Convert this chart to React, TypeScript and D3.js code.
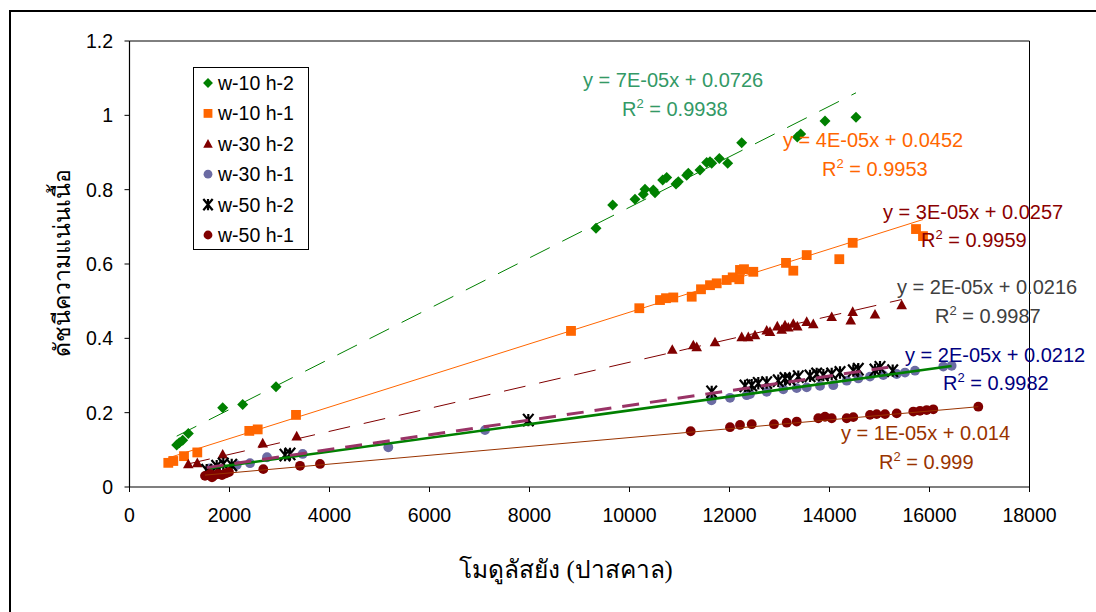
import React from "react";
import * as d3 from "d3";

// Series names (legend order)
const seriesNames = ["w-10 h-2", "w-10 h-1", "w-30 h-2", "w-30 h-1", "w-50 h-2", "w-50 h-1"];

// w-10 h-2
const w10h2X = [944, 996, 1064, 1176, 1864, 2264, 2930, 9330, 9664, 10110, 10276, 10310, 10476, 10510, 10664, 10744, 10930, 10976, 11144, 11176, 11410, 11544, 11610, 11644, 11796, 11964, 12244, 13356, 13424, 13910, 14530];
const w10h2Y = [0.113, 0.119, 0.126, 0.144, 0.213, 0.222, 0.270, 0.696, 0.759, 0.774, 0.788, 0.801, 0.799, 0.792, 0.826, 0.833, 0.815, 0.821, 0.839, 0.844, 0.853, 0.873, 0.875, 0.871, 0.884, 0.871, 0.926, 0.942, 0.950, 0.985, 0.995];

// w-10 h-1
const w10h1X = [776, 876, 1090, 1356, 2396, 2564, 3330, 8830, 10196, 10610, 10730, 10876, 11244, 11430, 11610, 11744, 11944, 12064, 12196, 12210, 12290, 12476, 13130, 13276, 13544, 14196, 14464, 15730, 15870];
const w10h1Y = [0.065, 0.070, 0.083, 0.093, 0.151, 0.155, 0.194, 0.420, 0.481, 0.503, 0.508, 0.510, 0.512, 0.532, 0.543, 0.548, 0.557, 0.564, 0.559, 0.584, 0.586, 0.579, 0.603, 0.582, 0.624, 0.613, 0.657, 0.694, 0.675];

// w-30 h-2
const w30h2X = [1176, 1356, 1864, 2664, 3344, 10856, 11276, 11344, 11710, 12244, 12376, 12510, 12744, 12810, 12956, 13044, 13110, 13176, 13276, 13356, 13544, 13676, 14044, 14464, 14424, 14910, 15444];
const w30h2Y = [0.062, 0.065, 0.088, 0.118, 0.137, 0.370, 0.382, 0.377, 0.390, 0.404, 0.404, 0.409, 0.422, 0.418, 0.433, 0.424, 0.436, 0.430, 0.440, 0.433, 0.445, 0.439, 0.458, 0.472, 0.449, 0.465, 0.490];

// w-30 h-1
const w30h1X = [1600, 2144, 2410, 2750, 3464, 5176, 7110, 11640, 12010, 12344, 12410, 12744, 13076, 13344, 13544, 13810, 14076, 14344, 14576, 14810, 15076, 15344, 15510, 15710, 16276, 16443];
const w30h1Y = [0.050, 0.059, 0.064, 0.080, 0.089, 0.107, 0.153, 0.233, 0.240, 0.247, 0.250, 0.256, 0.263, 0.266, 0.268, 0.272, 0.274, 0.286, 0.292, 0.297, 0.301, 0.304, 0.308, 0.313, 0.324, 0.326];

// w-50 h-2
const w50h2X = [1544, 1744, 1876, 2044, 3110, 3210, 7976, 11644, 12310, 12444, 12576, 12744, 12976, 13110, 13210, 13376, 13610, 13744, 13876, 14044, 14210, 14476, 14576, 14910, 15010, 15264];
const w50h2Y = [0.045, 0.056, 0.062, 0.059, 0.086, 0.089, 0.180, 0.256, 0.272, 0.274, 0.279, 0.281, 0.286, 0.292, 0.290, 0.297, 0.299, 0.304, 0.301, 0.304, 0.308, 0.313, 0.317, 0.315, 0.322, 0.313];

// w-50 h-1
const w50h1X = [1510, 1610, 1650, 1690, 1770, 1850, 1930, 1990, 2676, 3410, 3810, 11224, 12010, 12210, 12444, 12890, 13144, 13344, 13776, 13910, 14044, 14344, 14476, 14810, 14944, 15110, 15344, 15676, 15810, 15944, 16076, 16976];
const w50h1Y = [0.030, 0.035, 0.026, 0.031, 0.035, 0.032, 0.037, 0.040, 0.048, 0.057, 0.062, 0.150, 0.161, 0.167, 0.169, 0.169, 0.173, 0.176, 0.185, 0.189, 0.185, 0.185, 0.188, 0.194, 0.196, 0.196, 0.198, 0.203, 0.205, 0.207, 0.209, 0.216];

// Linear trendline coefficients (slope, intercept) per series
const trendSlopes = [6.8e-5, 4.25e-5, 3.1e-5, 1.85e-5, 1.98e-5, 1.19e-5];
const trendIntercepts = [0.0726, 0.0452, 0.0257, 0.0212, 0.0216, 0.014];

// Trendline equation labels
const eqLabels = [
  "y = 7E-05x + 0.0726",
  "y = 4E-05x + 0.0452",
  "y = 3E-05x + 0.0257",
  "y = 2E-05x + 0.0212",
  "y = 2E-05x + 0.0216",
  "y = 1E-05x + 0.014",
];
const r2Labels = ["0.9938", "0.9953", "0.9959", "0.9982", "0.9987", "0.999"];

// Axis ticks
const xTicks = [0, 2000, 4000, 6000, 8000, 10000, 12000, 14000, 16000, 18000];
const yTicks = [0, 0.2, 0.4, 0.6, 0.8, 1, 1.2];

const xTitle = "โมดูลัสยัง (ปาสคาล)";
const yTitle = "ดัชนีความแน่นเนื้อ";

const W = 1096;
const H = 612;
const FONT = "'Liberation Sans', Arial, sans-serif";

const x = d3.scaleLinear().domain([0, 18000]).range([129.5, 1029.5]);
const y = d3.scaleLinear().domain([0, 1.2]).range([487, 41]);

type Shape = "diamond" | "square" | "triangle" | "circle" | "star";

const styles = [
  { shape: "diamond" as Shape, fill: "#008000", line: "#008000", lw: 1, dash: "22,14", eqColor: "#339966" },
  { shape: "square" as Shape, fill: "#FF6600", line: "#FF6600", lw: 1, dash: "", eqColor: "#FF6600" },
  { shape: "triangle" as Shape, fill: "#800000", line: "#800000", lw: 1, dash: "22,14", eqColor: "#8B0000" },
  { shape: "circle" as Shape, fill: "#6B6BA3", line: "#008000", lw: 2.6, dash: "", eqColor: "#000080" },
  { shape: "star" as Shape, fill: "#000000", line: "#993366", lw: 3, dash: "17,11", eqColor: "#404040" },
  { shape: "circle" as Shape, fill: "#800000", line: "#993300", lw: 1, dash: "", eqColor: "#993300" },
];

const xsAll = [w10h2X, w10h1X, w30h2X, w30h1X, w50h2X, w50h1X];
const ysAll = [w10h2Y, w10h1Y, w30h2Y, w30h1Y, w50h2Y, w50h1Y];

// Label anchor positions (left edge, baseline of first line) for each equation block
const eqPos = [
  { x1: 583, y1: 87, x2: 622, y2: 116 },
  { x1: 783, y1: 147, x2: 822, y2: 176 },
  { x1: 883, y1: 219, x2: 921, y2: 247 },
  { x1: 905, y1: 362, x2: 943, y2: 390 },
  { x1: 897, y1: 294, x2: 935, y2: 323 },
  { x1: 841, y1: 440, x2: 879, y2: 469 },
];

function Marker({ shape, cx, cy, fill, s = 1 }: { shape: Shape; cx: number; cy: number; fill: string; s?: number }) {
  if (shape === "diamond") {
    const r = 5.5 * s;
    return <path d={`M${cx},${cy - r}L${cx + r},${cy}L${cx},${cy + r}L${cx - r},${cy}Z`} fill={fill} />;
  }
  if (shape === "square") {
    const r = 4.9 * s;
    return <rect x={cx - r} y={cy - r} width={2 * r} height={2 * r} fill={fill} />;
  }
  if (shape === "triangle") {
    const w = 5.3 * s;
    const h = 9.6 * s;
    return <path d={`M${cx},${cy - h * 0.55}L${cx + w},${cy + h * 0.45}L${cx - w},${cy + h * 0.45}Z`} fill={fill} />;
  }
  if (shape === "circle") {
    return <circle cx={cx} cy={cy} r={4.9 * s} fill={fill} />;
  }
  const a = 5.2 * s;
  const b = 6.2 * s;
  return (
    <path
      d={`M${cx - a},${cy - b}L${cx + a},${cy + b}M${cx + a},${cy - b}L${cx - a},${cy + b}M${cx},${cy - b}L${cx},${cy + b}`}
      stroke={fill}
      strokeWidth={2.2}
      fill="none"
    />
  );
}

export default function App() {
  const line = d3
    .line<number>()
    .x((d) => d[0])
    .y((d) => d[1]);

  const legendRows = seriesNames.map((n, i) => ({ n, i, cy: 83 + i * 30.4 }));

  return (
    <svg
      width={W}
      height={H}
      style={{ position: "absolute", left: 0, top: 0, display: "block", background: "#fff" }}
    >
      {/* outer chart frame */}
      <rect x={10} y={11} width={1200} height={700} fill="none" stroke="#000" strokeWidth={2} />

      {/* plot area border (top and right) */}
      <path d={`M${x(0)},${y(1.2)}H${x(18000)}V${y(0)}`} fill="none" stroke="#000" strokeWidth={1} />

      {/* axes */}
      <line x1={x(0)} x2={x(0)} y1={y(1.2)} y2={y(0)} stroke="#000" strokeWidth={1.2} />
      <line x1={x(0)} x2={x(18000)} y1={y(0)} y2={y(0)} stroke="#000" strokeWidth={1.2} />
      {yTicks.map((t) => (
        <g key={"y" + t}>
          <line x1={x(0) - 5} x2={x(0)} y1={y(t)} y2={y(t)} stroke="#000" />
          <text x={113} y={y(t) + 7} textAnchor="end" fontFamily={FONT} fontSize={19.5} fill="#000">
            {t}
          </text>
        </g>
      ))}
      {xTicks.map((t) => (
        <g key={"x" + t}>
          <line x1={x(t)} x2={x(t)} y1={y(0)} y2={y(0) + 5} stroke="#000" />
          <text x={x(t)} y={522} textAnchor="middle" fontFamily={FONT} fontSize={19.5} fill="#000">
            {t}
          </text>
        </g>
      ))}

      {/* markers */}
      {xsAll.map((xs, si) =>
        xs.map((xv, j) => (
          <Marker key={si + "-" + j} shape={styles[si].shape} cx={x(xv)} cy={y(ysAll[si][j])} fill={styles[si].fill} />
        ))
      )}

      {/* trendlines */}
      {xsAll.map((xs, si) => {
        const [lo, hi] = d3.extent(xs) as [number, number];
        const pts: [number, number][] = [lo, hi].map((v) => [x(v), y(trendSlopes[si] * v + trendIntercepts[si])]);
        return (
          <path
            key={"t" + si}
            d={line(pts as any) || ""}
            fill="none"
            stroke={styles[si].line}
            strokeWidth={styles[si].lw}
            strokeDasharray={styles[si].dash || undefined}
          />
        );
      })}

      {/* trendline equations */}
      {eqLabels.map((l, i) => (
        <g key={"e" + i} fontFamily={FONT} fontSize={20} fill={styles[i].eqColor}>
          <text x={eqPos[i].x1} y={eqPos[i].y1}>{l}</text>
          <text x={eqPos[i].x2} y={eqPos[i].y2}>
            R<tspan dy={-8} fontSize={13}>2</tspan>
            <tspan dy={8}>{" = " + r2Labels[i]}</tspan>
          </text>
        </g>
      ))}

      {/* legend */}
      <rect x={193.5} y={67.5} width={115} height={182} fill="#fff" stroke="#000" strokeWidth={1} />
      {legendRows.map(({ n, i, cy }) => (
        <g key={"l" + i}>
          <Marker shape={styles[i].shape} cx={208} cy={cy} fill={styles[i].fill} s={0.9} />
          <text x={218} y={cy + 7} fontFamily={FONT} fontSize={19.5} fill="#000">
            {n}
          </text>
        </g>
      ))}

      {/* axis titles */}
      <text x={566} y={578} textAnchor="middle" fontFamily="serif" fontSize={24.5} fill="#000">
        {xTitle}
      </text>
      <text
        transform="translate(70,263) rotate(-90)"
        textAnchor="middle"
        fontFamily="serif"
        fontSize={23}
        fill="#000"
      >
        {yTitle}
      </text>
    </svg>
  );
}
